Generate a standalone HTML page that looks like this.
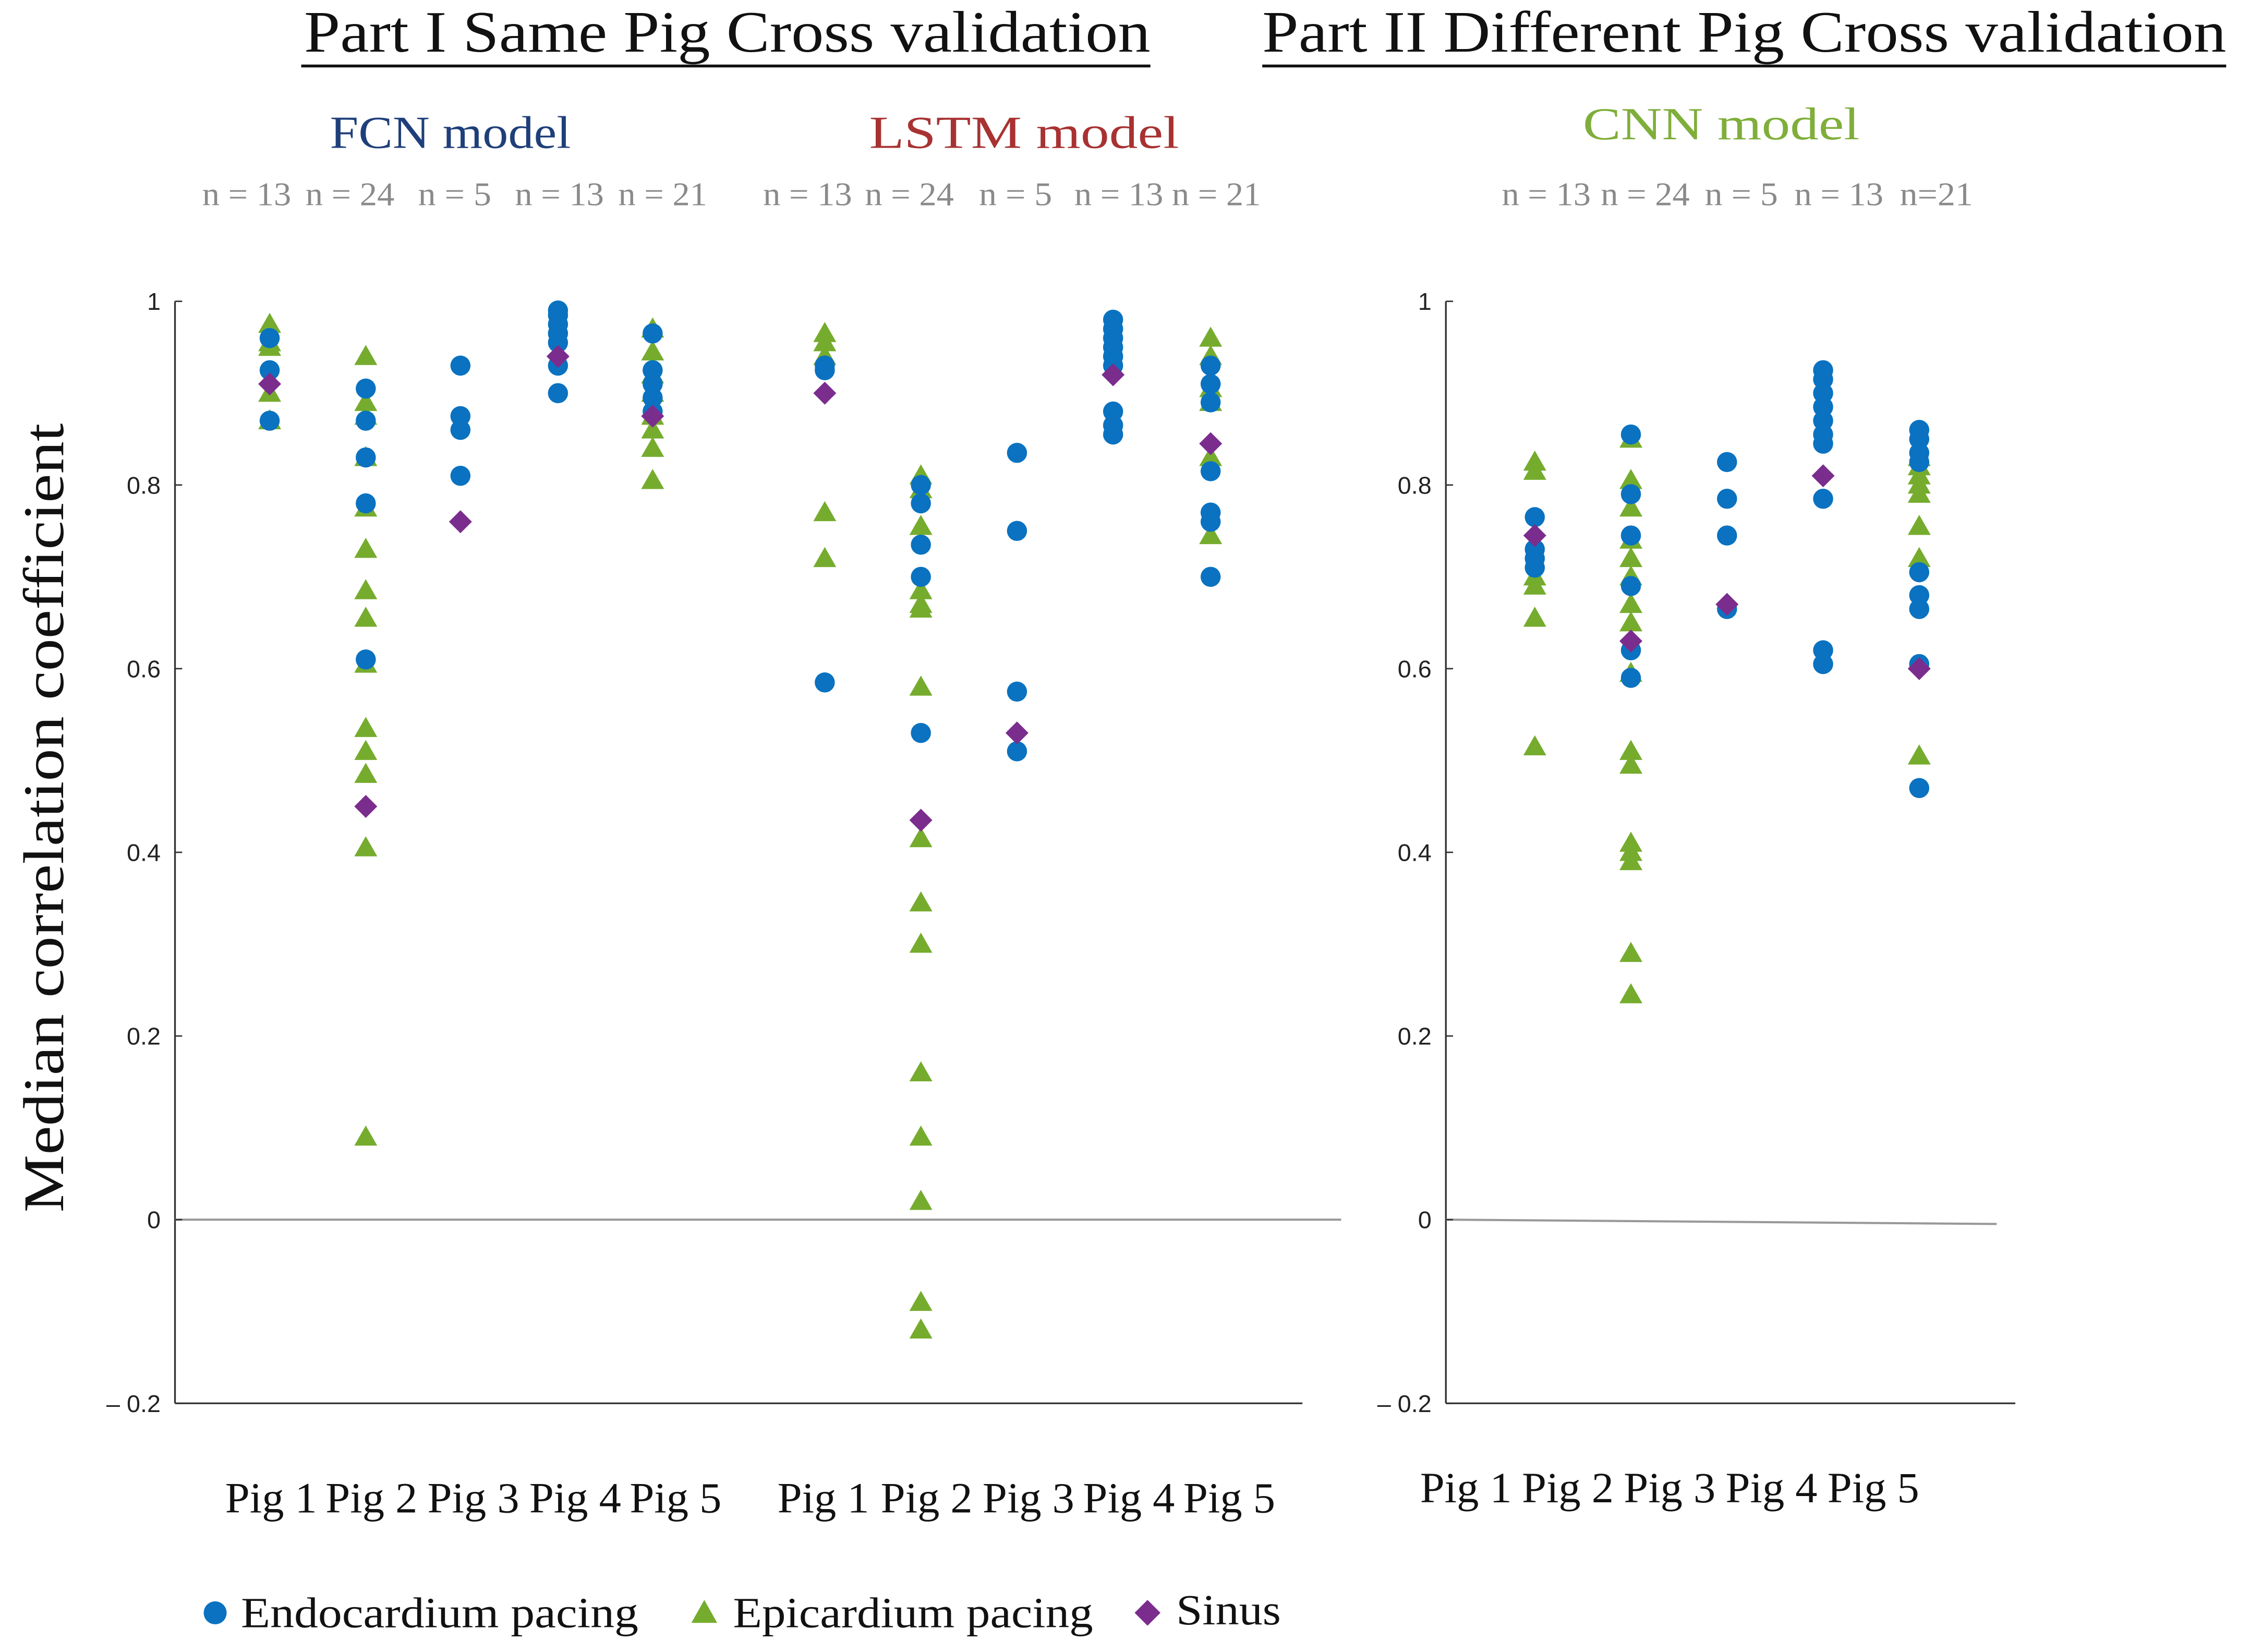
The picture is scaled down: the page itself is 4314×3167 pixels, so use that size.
<!DOCTYPE html>
<html><head><meta charset="utf-8"><style>
html,body{margin:0;padding:0;background:#fff;}
svg{display:block;}
.serif{font-family:"Liberation Serif",serif;}
.sans{font-family:"Liberation Sans",sans-serif;}
</style></head><body>
<svg id="chart" width="4314" height="3167" viewBox="0 0 1568.6 1151.3" preserveAspectRatio="none" xmlns="http://www.w3.org/2000/svg">
<rect width="1570" height="1152" fill="#fff"/>
<g class="serif">
<text x="507" y="36" font-size="41" text-anchor="middle" fill="#111" textLength="590" lengthAdjust="spacingAndGlyphs">Part I Same Pig Cross validation</text>
<line x1="210" y1="46" x2="802" y2="46" stroke="#111" stroke-width="2"/>
<text x="1216" y="36" font-size="41" text-anchor="middle" fill="#111" textLength="672" lengthAdjust="spacingAndGlyphs">Part II Different Pig Cross validation</text>
<line x1="880" y1="46" x2="1552" y2="46" stroke="#111" stroke-width="2"/>
<text x="314" y="103" font-size="32" text-anchor="middle" fill="#1f3f7a" textLength="168" lengthAdjust="spacingAndGlyphs">FCN model</text>
<text x="714" y="103" font-size="32" text-anchor="middle" fill="#a83232" textLength="216" lengthAdjust="spacingAndGlyphs">LSTM model</text>
<text x="1200" y="97" font-size="32" text-anchor="middle" fill="#7fae3a" textLength="193" lengthAdjust="spacingAndGlyphs">CNN model</text>
<text x="32" y="570" font-size="40" text-anchor="middle" fill="#111" transform="rotate(-90 32 570)" dy="12" textLength="550" lengthAdjust="spacingAndGlyphs">Median correlation coefficient</text>
</g>
<g id="plot"></g>
<g class="serif">
<circle cx="150" cy="1124" r="8" fill="#0a72c0"/>
<text x="168" y="1134" font-size="30" fill="#111" textLength="277" lengthAdjust="spacingAndGlyphs">Endocardium pacing</text>
<polygon points="491,1115 500,1131 482,1131" fill="#76ac2e"/>
<text x="511" y="1134" font-size="30" fill="#111" textLength="251" lengthAdjust="spacingAndGlyphs">Epicardium pacing</text>
<polygon points="800,1115 809,1124 800,1133 791,1124" fill="#7b2d8e"/>
<text x="820" y="1132" font-size="30" fill="#111" textLength="73" lengthAdjust="spacingAndGlyphs">Sinus</text>
</g>
</svg>
<script>
const pigs = ["Pig 1","Pig 2","Pig 3","Pig 4","Pig 5"];
const yTicks = [1,0.8,0.6,0.4,0.2,0,-0.2];
const yTickLabels = ["1","0.8","0.6","0.4","0.2","0","\u2013 0.2"];
const nFCN = ["n = 13","n = 24","n = 5","n = 13","n = 21"];
const nLSTM = ["n = 13","n = 24","n = 5","n = 13","n = 21"];
const nCNN = ["n = 13","n = 24","n = 5","n = 13","n=21"];

const fcnEndo = [[0.96,0.925,0.87],[0.905,0.87,0.83,0.78,0.61],[0.93,0.875,0.86,0.81],[0.99,0.985,0.975,0.965,0.955,0.93,0.9],[0.965,0.925,0.91,0.895,0.88]];
const fcnEpi = [[0.975,0.955,0.95,0.9,0.87],[0.94,0.89,0.875,0.83,0.775,0.73,0.685,0.655,0.605,0.535,0.51,0.485,0.405,0.09],[],[],[0.97,0.945,0.92,0.9,0.875,0.86,0.84,0.805]];
const fcnSinus = [[0.91],[0.45],[0.76],[0.94],[0.875]];

const lstmEndo = [[0.93,0.925,0.585],[0.8,0.78,0.735,0.7,0.53],[0.835,0.75,0.575,0.51],[0.98,0.97,0.96,0.95,0.94,0.93,0.88,0.865,0.855],[0.93,0.91,0.89,0.815,0.77,0.76,0.7]];
const lstmEpi = [[0.965,0.955,0.94,0.77,0.72],[0.81,0.795,0.755,0.685,0.67,0.665,0.58,0.415,0.345,0.3,0.16,0.09,0.02,-0.09,-0.12],[],[],[0.96,0.94,0.905,0.89,0.83,0.745]];
const lstmSinus = [[0.9],[0.435],[0.53],[0.92],[0.845]];

const cnnEndo = [[0.765,0.73,0.72,0.71],[0.855,0.79,0.745,0.69,0.62,0.59],[0.825,0.785,0.745,0.665],[0.925,0.915,0.9,0.885,0.87,0.855,0.845,0.785,0.62,0.605],[0.86,0.85,0.835,0.825,0.705,0.68,0.665,0.605,0.47]];
const cnnEpi = [[0.825,0.815,0.7,0.69,0.655,0.515],[0.85,0.805,0.775,0.74,0.72,0.7,0.67,0.65,0.595,0.51,0.495,0.41,0.4,0.39,0.29,0.245],[],[],[0.83,0.82,0.81,0.8,0.79,0.755,0.72,0.505]];
const cnnSinus = [[0.745],[0.63],[0.67],[0.81],[0.6]];

const NS='http://www.w3.org/2000/svg';
const plot=document.getElementById('plot');
function y(v){return 850-v*640;}
function mk(tag,attrs,parent){const e=document.createElementNS(NS,tag);for(const k in attrs)e.setAttribute(k,attrs[k]);(parent||plot).appendChild(e);return e;}

function axis(x0,x1,zx1,zy1,labelX){
  const g=mk('g',{});
  
  
  mk('line',{x1:x0,y1:y(1),x2:x0,y2:y(-0.2),stroke:'#333','stroke-width':1.2},g);
  mk('line',{x1:x0,y1:y(-0.2),x2:x1,y2:y(-0.2),stroke:'#333','stroke-width':1.2},g);
  mk('line',{x1:x0,y1:y(0),x2:zx1,y2:zy1,stroke:'#999','stroke-width':1.5},g);
  yTicks.forEach((t,i)=>{
    mk('line',{x1:x0,y1:y(t),x2:x0+5,y2:y(t),stroke:'#333','stroke-width':1},g);
    const tx=mk('text',{x:labelX,y:y(t)+6,'font-size':17,'text-anchor':'end',fill:'#222',class:'sans'},g);
    
    
    tx.textContent=yTickLabels[i];
  });
}
axis(122,908,935,850,112);
axis(1008,1405,1392,853,998);

function panel(name,xs,nXs,pigXs,endo,epi,sinus,nLabels,nY,pigY){
  const g=mk('g',{});
  
  
  xs.forEach((x,i)=>{
    const nt=mk('text',{x:nXs[i],y:nY,'font-size':23,'text-anchor':'middle',fill:'#8a8a8a',class:'serif',textLength:(nLabels[i].length>5?(nLabels[i]==='n=21'?47:62):51),lengthAdjust:'spacingAndGlyphs'},g);
    
    
    nt.textContent=nLabels[i];
    const pt=mk('text',{x:pigXs[i],y:pigY,'font-size':30,'text-anchor':'middle',fill:'#111',class:'serif',textLength:64,lengthAdjust:'spacingAndGlyphs'},g);
    
    
    pt.textContent=pigs[i];
    epi[i].forEach(v=>{const cy=y(v);
      const p=mk('polygon',{points:`${x},${cy-8} ${x+8},${cy+6} ${x-8},${cy+6}`,fill:'#76ac2e'},g);
      
      });
    endo[i].forEach(v=>{
      const c=mk('circle',{cx:x,cy:y(v),r:7,fill:'#0a72c0'},g);
      
      });
    sinus[i].forEach(v=>{const cy=y(v);
      const d=mk('polygon',{points:`${x},${cy-8} ${x+8},${cy} ${x},${cy+8} ${x-8},${cy}`,fill:'#7b2d8e'},g);
      
      });
  });
}
panel('fcn',[188,255,321,389,455],[172,244,317,390,462],[189,259,330,401,471],fcnEndo,fcnEpi,fcnSinus,nFCN,143,1054);
panel('lstm',[575,642,709,776,844],[563,634,708,780,848],[574,646,717,787,857],lstmEndo,lstmEpi,lstmSinus,nLSTM,143,1054);
panel('cnn',[1070,1137,1204,1271,1338],[1078,1147,1214,1282,1350],[1022,1093,1164,1235,1306],cnnEndo,cnnEpi,cnnSinus,nCNN,143,1047);
</script>
</body></html>
